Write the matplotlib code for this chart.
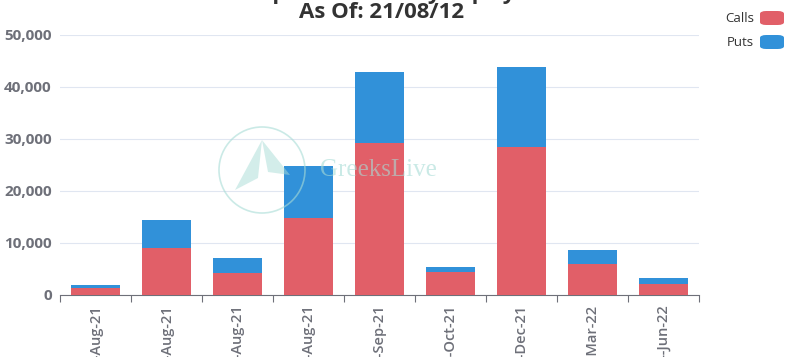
import matplotlib
matplotlib.use("Agg")
import matplotlib.pyplot as plt
from matplotlib.patches import FancyBboxPatch, Ellipse, Polygon
import numpy as np

plt.rcParams['font.family'] = ['Open Sans', 'DejaVu Sans']

expiries = ["12-Aug-21", "13-Aug-21", "20-Aug-21", "27-Aug-21", "24-Sep-21",
            "29-Oct-21", "31-Dec-21", "25-Mar-22", "24-Jun-22"]
calls = [1300, 9000, 4200, 14800, 29200, 4400, 28500, 5900, 2100]
puts = [600, 5400, 2900, 10000, 13700, 1000, 15300, 2800, 1200]
title_line1 = "Total Open Interest by Expiry Date"
title_line2 = "As Of: 21/08/12"
yticks = [0, 10000, 20000, 30000, 40000, 50000]

c_calls = "#E15F68"
c_puts = "#3191D9"

fig = plt.figure(figsize=(7.89, 3.57), dpi=100)
ax = fig.add_axes([60/789, 1-295/357, 639/789, 260/357])

x = np.arange(len(expiries))
ax.bar(x, calls, width=0.69, color=c_calls, zorder=3)
ax.bar(x, puts, width=0.69, bottom=calls, color=c_puts, zorder=3)

ax.set_xlim(-0.5, len(expiries) - 0.5)
ax.set_ylim(0, 50000)
ax.set_yticks(yticks)
ax.set_yticklabels([f"{v:,}" for v in yticks], fontsize=11, color="#6E7079", fontweight="bold")
ax.yaxis.grid(True, color="#E0E6F1", linewidth=0.8, zorder=0)
ax.tick_params(axis='y', length=0, pad=6)

ax.set_xticks(x)
ax.set_xticklabels(expiries, rotation=90, fontsize=10.5, color="#6E7079", fontweight="semibold")
ax.tick_params(axis='x', length=0, pad=7)
ax.set_xticks(np.arange(len(expiries) + 1) - 0.5, minor=True)
ax.tick_params(axis='x', which='minor', length=5, color="#6E7079", width=0.8)

for s in ["top", "right", "left"]:
    ax.spines[s].set_visible(False)
ax.spines["bottom"].set_color("#6E7079")
ax.spines["bottom"].set_linewidth(0.8)

# watermark
wm = "#A8DCD6"
fig.patches.append(Ellipse((262/789, 1-170/357), 86/789, 86/357, transform=fig.transFigure,
                           fill=False, edgecolor=wm, alpha=0.6, linewidth=1.2, zorder=1))
fig.patches.append(Polygon([(235/789, 1-190/357), (262/789, 1-140/357), (258/789, 1-178/357)],
                           closed=True, transform=fig.transFigure, facecolor=wm, alpha=0.5,
                           edgecolor="none", zorder=1))
fig.patches.append(Polygon([(262/789, 1-140/357), (290/789, 1-175/357), (268/789, 1-172/357)],
                           closed=True, transform=fig.transFigure, facecolor=wm, alpha=0.5,
                           edgecolor="none", zorder=1))
fig.text(378/789, 1-170/357, "GreeksLive", fontsize=18, color=wm, alpha=0.6,
         ha="center", va="center", family="Liberation Serif", zorder=1)

# titles
fig.text(384/789, 1-(-7)/357, title_line1, fontsize=16, fontweight="bold", color="#333333",
         ha="center", va="center")
fig.text(382/789, 1-13/357, title_line2, fontsize=16, fontweight="bold", color="#333333",
         ha="center", va="center")

# legend
for i, (lab, col) in enumerate([("Calls", c_calls), ("Puts", c_puts)]):
    yc = 1 - (18 + i * 24) / 357
    fig.patches.append(FancyBboxPatch((760/789, yc - 7/357), 24/789, 14/357,
                                      boxstyle="round,pad=0,rounding_size=0.008",
                                      transform=fig.transFigure, facecolor=col,
                                      edgecolor="none"))
    fig.text(754/789, yc, lab, fontsize=9.5, color="#333333", ha="right", va="center")

fig.savefig("out.png", dpi=100)
